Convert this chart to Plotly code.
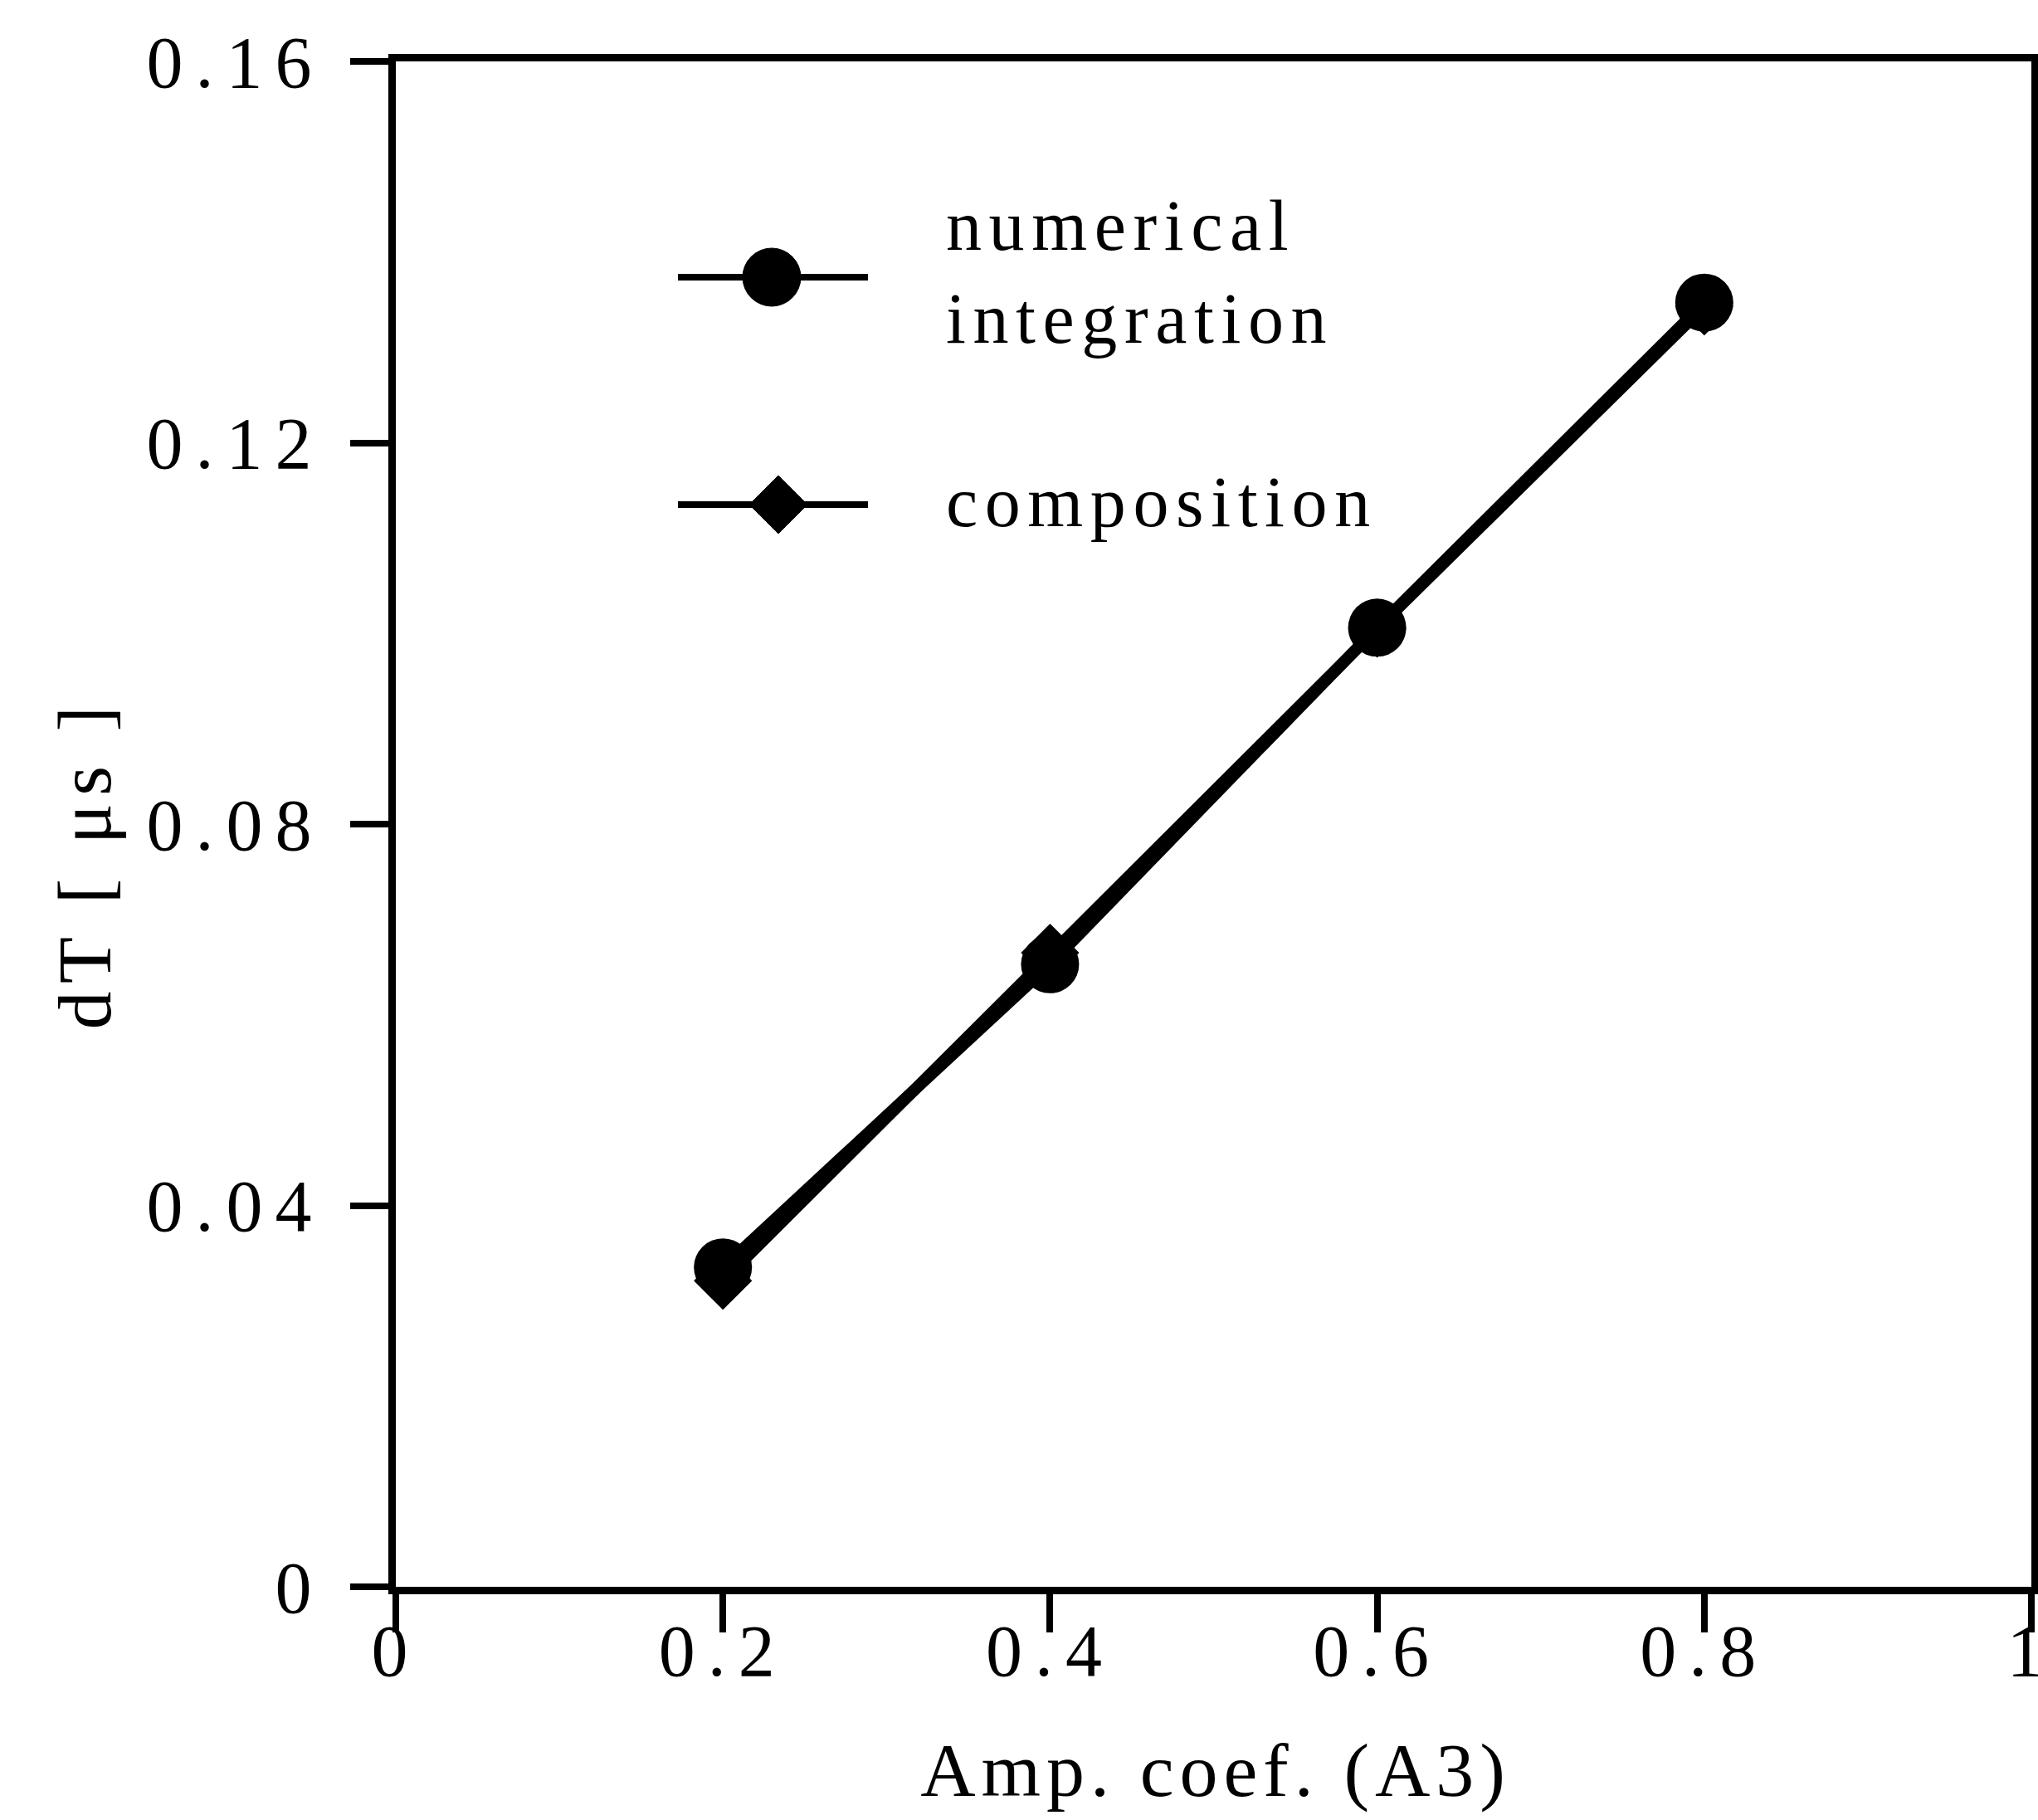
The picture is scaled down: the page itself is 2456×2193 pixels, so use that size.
import plotly.graph_objects as go

# ---- data ----
amp_coef = [0.2, 0.4, 0.6, 0.8]
numerical_integration = [0.0335, 0.0653, 0.1006, 0.1347]
composition = [0.0321, 0.0665, 0.1005, 0.1343]

x_tickvals = [0, 0.2, 0.4, 0.6, 0.8, 1]
x_ticktext = ["0", "0.2", "0.4", "0.6", "0.8", "1"]
y_tickvals = [0, 0.04, 0.08, 0.12, 0.16]
y_ticktext = ["0", "0.04", "0.08", "0.12", "0.16"]

series_names = ["numerical<br>integration", "composition"]
x_title = "Amp. coef. (A3)"
y_title = "dT [ μs ]"

FONT = "Liberation Serif"
W, H = 2456, 2193
ML, MR, MT, MB = 477, 8, 74, 281

fig = go.Figure()
fig.add_trace(go.Scatter(
    x=amp_coef, y=composition, mode="lines+markers", name="composition",
    line=dict(color="black", width=14),
    marker=dict(symbol="diamond", size=54, color="black"),
    showlegend=False,
))
fig.add_trace(go.Scatter(
    x=amp_coef, y=numerical_integration, mode="lines+markers",
    name="numerical integration",
    line=dict(color="black", width=14),
    marker=dict(symbol="circle", size=70, color="black"),
    showlegend=False,
))

axis_common = dict(
    showline=True, linecolor="black", linewidth=9, mirror=True,
    ticks="outside", ticklen=46, tickwidth=8, tickcolor="black",
    showgrid=False, zeroline=False,
    tickfont=dict(family=FONT, size=88, color="black"),
)
fig.update_xaxes(range=[0, 1], tickmode="array", tickvals=x_tickvals,
                 ticktext=x_ticktext, ticklabelstandoff=-54,
                 ticklabeloverflow="allow", **axis_common)
fig.update_yaxes(range=[0, 0.16], tickmode="array", tickvals=y_tickvals,
                 ticktext=y_ticktext, ticklabelstandoff=14, **axis_common)

pw = W - ML - MR
ph = H - MT - MB


def px(xp):
    return (xp - ML) / pw


def py(yp):
    return (H - MB - yp) / ph


# manual legend (long sample lines with large symbols, as in the original)
shapes = []
legend_rows = [  # (y pixel, symbol)
    (334, "circle"),
    (608, "diamond"),
]
for yp, sym in legend_rows:
    shapes.append(dict(type="line", xref="paper", yref="paper",
                       x0=px(817), x1=px(1046), y0=py(yp), y1=py(yp),
                       line=dict(color="black", width=8)))
    if sym == "circle":
        shapes.append(dict(type="circle", xref="paper", yref="paper",
                           xsizemode="pixel", ysizemode="pixel",
                           xanchor=px(930), yanchor=py(yp),
                           x0=-35, x1=35, y0=-35, y1=35,
                           fillcolor="black", line=dict(color="black", width=1)))
    else:
        shapes.append(dict(type="path", xref="paper", yref="paper",
                           xsizemode="pixel", ysizemode="pixel",
                           xanchor=px(938), yanchor=py(yp),
                           path="M-35,0 L0,35 L35,0 L0,-35 Z",
                           fillcolor="black", line=dict(color="black", width=1)))

annotations = [
    dict(text=series_names[0], xref="paper", yref="paper", x=px(1138), y=py(328),
         xanchor="left", yanchor="middle", align="left", showarrow=False,
         font=dict(family=FONT, size=86, color="black")),
    dict(text=series_names[1], xref="paper", yref="paper", x=px(1138), y=py(605),
         xanchor="left", yanchor="middle", align="left", showarrow=False,
         font=dict(family=FONT, size=86, color="black")),
    dict(text=x_title, xref="paper", yref="paper", x=px(1465), y=py(2133),
         xanchor="center", yanchor="middle", showarrow=False,
         font=dict(family=FONT, size=92, color="black")),
    dict(text=y_title, xref="paper", yref="paper", x=px(102), y=py(1041),
         xanchor="center", yanchor="middle", showarrow=False, textangle=-90,
         font=dict(family=FONT, size=92, color="black")),
]

fig.update_layout(
    width=W, height=H,
    margin=dict(l=ML, r=MR, t=MT, b=MB, autoexpand=False),
    paper_bgcolor="white", plot_bgcolor="white",
    shapes=shapes, annotations=annotations,
    showlegend=False,
)

post = """
var gd = document.getElementById('{plot_id}');
function spacing(){
  gd.querySelectorAll('.xtick text, .ytick text').forEach(function(t){ t.style.letterSpacing = '0.17em'; });
  gd.querySelectorAll('.annotation-text').forEach(function(t){ t.style.letterSpacing = '0.1em'; });
  var ann = gd.querySelectorAll('.annotation-text');
  if (ann.length > 2) { ann[2].style.letterSpacing = '0.075em'; }
}
spacing();
gd.on('plotly_afterplot', spacing);
"""

fig.write_html("out.html", post_script=post)
